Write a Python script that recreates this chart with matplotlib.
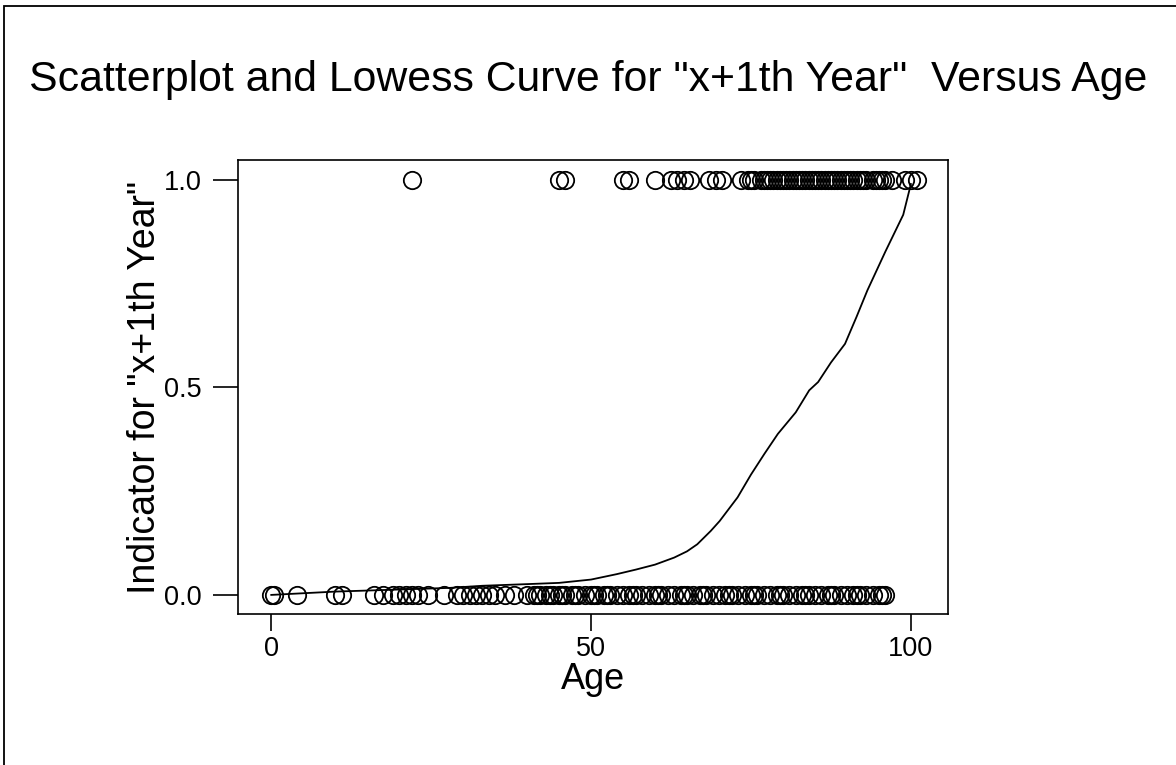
import matplotlib
matplotlib.use('Agg')
import matplotlib.pyplot as plt
from matplotlib.patches import Rectangle

plt.rcParams['font.family'] = ['Liberation Sans', 'DejaVu Sans']

# Data: ages with indicator = 1
age_one = [22, 45, 46, 55, 56, 60, 62.5, 63.5, 64.5, 65.5, 68.5, 69.5, 70.5,
           73.5, 74.5, 75, 75.5, 76.5, 77, 77.5, 78, 78.5, 79, 79.5, 80, 80.5,
           81, 81.5, 82, 82.5, 83, 83.5, 84, 84.5, 85, 85.5, 86, 86.5, 87,
           87.5, 88, 88.5, 89, 89.5, 90, 90.5, 91, 91.5, 92, 92.5, 93, 94,
           94.5, 95, 95.5, 96, 97, 99, 100, 101]
# ages with indicator = 0
age_zero = [0, 0.5, 4, 10, 11, 16, 17.5, 19, 20, 21, 22, 23, 24.5, 27, 29, 30,
            31, 32, 33, 34, 35, 36.5, 38, 40, 41, 41.5, 42, 43, 43.5, 44, 45,
            45.5, 46, 47, 47.5, 48, 49, 50, 50.5, 51, 52, 52.5, 53, 54, 55,
            56, 56.5, 57, 58, 59, 60, 60.5, 61, 62, 63, 64, 64.5, 65, 66, 67,
            67.5, 68, 69, 70, 71, 71.5, 72, 73, 74, 75, 75.5, 76, 77, 78,
            79, 79.5, 80, 81, 82, 83, 83.5, 84, 85, 86, 87, 87.5, 88, 89, 90,
            91, 91.5, 92, 93, 94, 95, 95.5, 96]

# Lowess curve
lowess_x = [0, 5, 10, 20, 28, 33, 40, 45, 50, 54, 57, 60, 63, 65, 66.6, 68.7,
            70.1, 72.9, 75, 77.1, 79.2, 82, 84.1, 85.5, 87.5, 89.7, 91.5, 93.2,
            96, 98.8, 100]
lowess_y = [0.0, 0.004, 0.008, 0.013, 0.017, 0.022, 0.026, 0.029, 0.037, 0.05,
            0.061, 0.073, 0.09, 0.105, 0.122, 0.154, 0.178, 0.235, 0.29, 0.34,
            0.388, 0.44, 0.493, 0.513, 0.56, 0.605, 0.67, 0.734, 0.827, 0.916,
            0.99]

fig = plt.figure(figsize=(11.76, 7.65), dpi=100)
ax = fig.add_axes([238 / 1176, 1 - 614 / 765, 710 / 1176, 454 / 765])

ax.plot(age_zero, [0] * len(age_zero), 'o', mfc='none', mec='black', ms=12.5, mew=1.3)
ax.plot(age_one, [1] * len(age_one), 'o', mfc='none', mec='black', ms=12.5, mew=1.3)
ax.plot(lowess_x, lowess_y, color='black', linewidth=1.3)

ax.set_xlim(-5.2, 105.8)
ax.set_ylim(-0.046, 1.048)
ax.set_xticks([0, 50, 100])
ax.set_xticklabels(['0', '50', '100'])
ax.set_yticks([0.0, 0.5, 1.0])
ax.set_yticklabels(['0.0', '0.5', '1.0'])
ax.tick_params(axis='x', direction='out', length=12, width=1.2, labelsize=19.5, pad=4)
ax.tick_params(axis='y', direction='out', length=18, width=1.2, labelsize=19.5, pad=8)
for s in ax.spines.values():
    s.set_linewidth(1.2)

ax.set_xlabel('Age', fontsize=26, labelpad=0)
ax.set_ylabel('Indicator for "x+1th Year"', fontsize=27, labelpad=1)
fig.text(0.5, 1 - 80 / 765, 'Scatterplot and Lowess Curve for "x+1th Year"  Versus Age',
         ha='center', va='center', fontsize=30.8)

# page frame (only left and top edges visible)
fig.patches.append(Rectangle((4 / 1176, -0.5), 2.0, 1.5 - 6 / 765, transform=fig.transFigure,
                             fill=False, edgecolor='black', linewidth=1.3))

fig.savefig('out.png', dpi=100)
